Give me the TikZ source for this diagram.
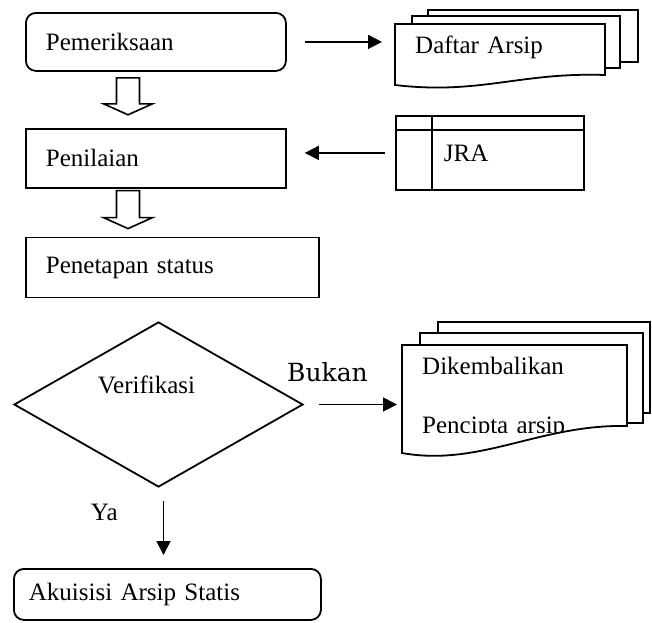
\documentclass[tikz,border=0pt]{standalone}
\usepackage{fontspec}
\setmainfont{Liberation Serif}
\newfontfamily\bukanfont{DejaVu Serif}
\usetikzlibrary{positioning,arrows.meta,backgrounds,calc,shapes.geometric}

\begin{document}
\begin{tikzpicture}[
  x=1pt, y=1pt,
  font=\fontsize{25}{29}\selectfont,
  box/.style={draw, line width=1.8pt, anchor=north west, align=left,
              inner xsep=20pt, inner ysep=0pt},
  rbox/.style={box, rounded corners=10pt},
  doctext/.style={anchor=north west, align=left, inner xsep=20pt, inner ysep=0pt},
  decision/.style={draw, diamond, line width=1.8pt, inner sep=0pt, aspect=1.75,
                   minimum width=289pt, minimum height=165pt},
  doc/.style={draw, line width=1.8pt, fill=white},
  arr/.style={-{Triangle[length=14pt,width=14pt]}, line width=1.8pt},
  hollow/.style={line width=1.6pt, to path={let \p1=(\tikztostart), \p2=(\tikztotarget) in
     (\x1-11.5pt,\y1) -- (\x1-11.5pt,\y2+11pt) -- (\x1-24.5pt,\y2+11pt) -- (\x1,\y2)
     -- (\x1+24.5pt,\y2+11pt) -- (\x1+11.5pt,\y2+11pt) -- (\x1+11.5pt,\y1) -- cycle}},
  lbl/.style={inner sep=0pt}
]
\useasboundingbox (0,0) rectangle (652,-622);

% left column
\node[rbox, text width=220pt, minimum height=58pt] (pem) at (25,-12) {Pemeriksaan};
\node[box, below=56pt of pem.south west, anchor=north west,
      text width=220pt, minimum height=59pt] (nil) {Penilaian};
\node[box, below=48pt of nil.south west, anchor=north west,
      text width=253pt, minimum height=60pt] (tap) {Penetapan status};
\node[decision, label={[lbl, xshift=-12pt, yshift=19.5pt]center:Verifikasi}] (ver) at (158.5,-404.5) {};
\node[rbox, inner xsep=15pt, text width=277pt, minimum height=51pt] (aku) at (13,-568) {Akuisisi Arsip Statis};

% right column
\node[doctext, text width=170pt, minimum height=46pt] (daf) at (395,-24) {Daftar Arsip};
\node[box, inner xsep=48pt, text width=92pt, minimum height=74pt] (jra) at (395,-115) {JRA};
\draw[line width=1.8pt] ($(jra.north west)+(0,-15)$) -- ($(jra.north east)+(0,-15)$);
\draw[line width=1.8pt] ($(jra.north west)+(37,0)$) -- ($(jra.south west)+(37,0)$);
\begin{scope}
  \clip (402,-340) rectangle (627,-432.5);
  \node[doctext, text width=185pt, inner ysep=11.5pt] (dik) at (402,-345)
     {Dikembalikan\\[30pt]Pencipta arsip};
\end{scope}

% connectors
\draw[hollow] ($(pem.south west)+(103,-6)$) to ($(nil.north west)+(103,13)$);
\draw[hollow] ($(nil.south west)+(103,-2)$) to ($(tap.north west)+(103,8)$);
\draw[arr, shorten <=18pt, shorten >=13pt] (pem.east) -- (pem.east -| daf.west);
\draw[arr, shorten <=10pt, shorten >=18pt] (jra.west) -- (jra.west -| nil.east);
\draw[arr, shorten <=15pt, shorten >=5pt] (ver.east) -- (ver.east -| dik.west)
   node[lbl, pos=0.24, above=22pt, font=\bukanfont\fontsize{25}{30}\selectfont] {Bukan};
\draw[arr, shorten <=13pt, shorten >=13pt] ($(ver.south)+(5,0)$) -- ($(ver.south |- aku.north)+(5,0)$)
   node[lbl, pos=0.31, left=45pt] {Ya};

% document stacks
\begin{scope}[on background layer, shift={(daf.north west)}]
  \draw[doc] (33,14) rectangle (243,-38);
  \draw[doc] (17,8) rectangle (225,-44);
  \draw[doc] (0,0) -- (210,0) -- (210,-51) .. controls (125,-48) and (85,-71) .. (0,-61) -- cycle;
\end{scope}
\begin{scope}[on background layer, shift={(dik.north west)}]
  \draw[doc] (36,23) rectangle (248,-68);
  \draw[doc] (18,12) rectangle (241,-78);
  \draw[doc] (0,0) -- (225,0) -- (225,-81) .. controls (138,-79) and (78,-122) .. (0,-108) -- cycle;
\end{scope}
\end{tikzpicture}
\end{document}
